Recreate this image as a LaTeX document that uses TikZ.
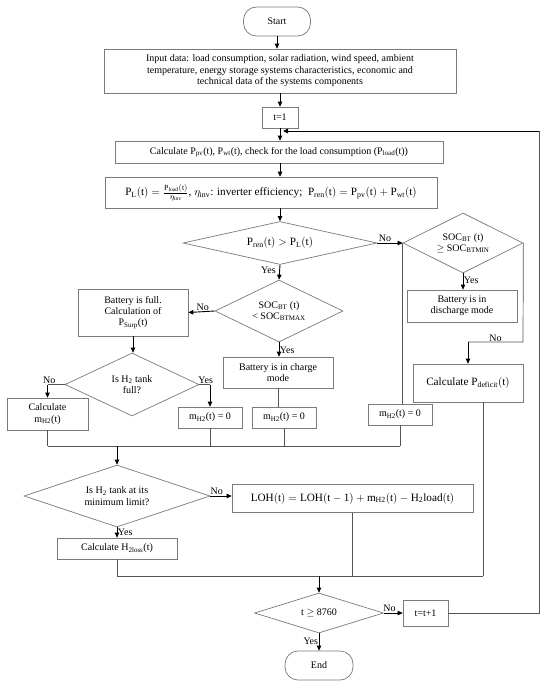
\documentclass[tikz,border=0pt]{standalone}
\usepackage{fontspec}
\setmainfont{Liberation Serif}
\usetikzlibrary{shapes.geometric,arrows.meta,calc}
\definecolor{boxgray}{HTML}{7A7A7A}
\definecolor{linegray}{HTML}{555555}
\newcommand{\fs}{\fontsize{10}{11.4}\selectfont}
\newcommand{\fm}{\fontsize{11.2}{13}\selectfont}
\newcommand{\sub}[1]{\textsubscript{#1}}
\begin{document}
\begin{tikzpicture}[x=1pt,y=-1pt,
  box/.style={draw=boxgray, line width=0.7pt, inner sep=1pt, align=center, font=\fs},
  dia/.style={draw=boxgray, line width=0.7pt, diamond, inner sep=0pt, align=center, font=\fs},
  term/.style={draw=boxgray, line width=0.7pt, rounded corners=13pt, align=center, font=\fs},
  arr/.style={-{Triangle[length=5pt,width=4.5pt]}, line width=0.9pt, black},
  ln/.style={draw=linegray, line width=0.7pt},
  lbl/.style={font=\fs, inner sep=0.5pt}]
\useasboundingbox (0,0) rectangle (550,687);
\fill[white] (0,0) rectangle (550,687);

% nodes
\node[term, minimum width=67pt, minimum height=29pt] (start) at (277,21.5) {Start};
\node[box, minimum width=352pt, minimum height=44pt] (input) at (280,71)
  {Input data: load consumption, solar radiation, wind speed, ambient\\temperature, energy storage systems characteristics, economic and\\technical data of the systems components};
\node[box, minimum width=36pt, minimum height=21pt] (t1) at (280,117.5) {t=1};
\node[box, minimum width=328pt, minimum height=22pt] (calc) at (279,152)
  {Calculate P\sub{pv}(t), P\sub{wt}(t), check for the load consumption (P\sub{load}(t))};
\node[box, minimum width=332pt, minimum height=31pt, font=\fm] (pl) at (271,192.5)
  {$\mathrm{P_L(t)} = \frac{\mathrm{P_{load}(t)}}{\eta_{\mathrm{inv}}}$, $\eta_{\mathrm{inv}}$: inverter efficiency;\ \ $\mathrm{P_{ren}(t) = P_{pv}(t) + P_{wt}(t)}$};
\node[dia, minimum width=194pt, minimum height=43pt, shape aspect=4.5, font=\fm] (pren) at (280,243)
  {$\mathrm{P_{ren}(t) > P_L(t)}$};
\node[dia, minimum width=120pt, minimum height=60pt, shape aspect=2] (socmin) at (463,243)
  {SOC\sub{BT} (t)\\$\geq$ SOC\sub{BTMIN}};
\node[dia, minimum width=128pt, minimum height=62pt, shape aspect=2] (socmax) at (279,311)
  {SOC\sub{BT} (t)\\< SOC\sub{BTMAX}};
\node[box, minimum width=110pt, minimum height=47pt] (batfull) at (133,312.5)
  {Battery is full.\\Calculation of\\P\sub{Surp}(t)};
\node[box, minimum width=110pt, minimum height=31pt] (charge) at (278,372.5)
  {Battery is in charge\\mode};
\node[box, minimum width=110pt, minimum height=32pt] (discharge) at (462,306)
  {Battery is in\\discharge mode};
\node[box, minimum width=110pt, minimum height=38pt, font=\fm] (pdef) at (468,383)
  {Calculate $\mathrm{P_{deficit}(t)}$};
\node[dia, minimum width=134pt, minimum height=63pt, shape aspect=2] (h2full) at (132,384.5)
  {Is H\sub{2} tank\\full?};
\node[box, minimum width=81pt, minimum height=32pt] (calcm) at (47.5,414)
  {Calculate\\m\sub{H2}(t)};
\node[box, minimum width=64pt, minimum height=21pt] (m1) at (210,417.5) {m\sub{H2}(t) = 0};
\node[box, minimum width=64pt, minimum height=21pt] (m2) at (284,417.5) {m\sub{H2}(t) = 0};
\node[box, minimum width=64pt, minimum height=21pt] (m3) at (400,414.5) {m\sub{H2}(t) = 0};
\node[dia, minimum width=186pt, minimum height=62pt, shape aspect=3] (h2min) at (117,496)
  {Is H\sub{2} tank at its\\minimum limit?};
\node[box, minimum width=241pt, minimum height=28pt, font=\fm] (loh) at (352.5,498.5)
  {$\mathrm{LOH(t) = LOH(t-1) + m_{H2}(t) - H_2load(t)}$};
\node[box, minimum width=120pt, minimum height=21pt] (h2loss) at (117,548.5)
  {Calculate H\sub{2loss}(t)};
\node[dia, minimum width=129pt, minimum height=40pt, shape aspect=3.2] (tcheck) at (319,613)
  {t $\geq$ 8760};
\node[box, minimum width=45pt, minimum height=26pt] (tinc) at (425.5,613) {t=t+1};
\node[term, minimum width=68pt, minimum height=29pt] (end) at (319,665.5) {End};

% coordinates
\coordinate (loopR) at (539,131);
\coordinate (loopIn) at (280,131);
\coordinate (socminTurn) at (523,342);
\coordinate (merge1L) at (calcm.south |- 0,446);
\coordinate (merge1R) at (m3.south |- 0,446);
\coordinate (merge1A) at (h2min.north |- 0,446);
\coordinate (pdefOut) at ($(pdef.south)+(15,0)$);
\coordinate (merge2L) at (h2loss.south |- 0,576);
\coordinate (merge2R) at (pdefOut |- 0,576);
\coordinate (merge2A) at (tcheck.north |- 0,576);

% connectors
\draw[arr] (start.south) -- (start.south |- input.north);
\draw[arr] (input.south -| t1.north) -- (t1.north);
\draw[arr] (t1.south) -- (t1.south |- calc.north);
\draw[arr] (calc.south -| t1.south) -- (t1.south |- pl.north);
\draw[arr] (pl.south -| pren.north) -- (pren.north);
\draw[ln] (tinc.east) -- (tinc.east -| loopR) -- (loopR);
\draw[arr] (loopR) -- ($(loopIn)+(3,0)$);

\draw[arr] (pren.east) -- node[lbl, above, pos=0.3] {No} (socmin.west);
\draw[arr] (pren.south) -- node[lbl, left, xshift=-3pt, pos=0.35] {Yes} (socmax.north);
\draw[arr] (socmax.west) -- node[lbl, above, pos=0.45] {No} (batfull.east -| batfull.east);
\draw[arr] (socmax.south) -- node[lbl, right, pos=0.55] {Yes} (socmax.south |- charge.north);
\draw[arr] (socmin.south) -- node[lbl, right, pos=0.4] {Yes} (socmin.south |- discharge.north);
\draw[ln] (socmin.east) -- (socminTurn) -- node[lbl, above, pos=0.5] {No} (socminTurn -| pdef.north);
\draw[arr] ($(socminTurn -| pdef.north)+(0,-0.4)$) -- (pdef.north);
\draw[ln] (socmin.west) -- (socmin.west |- m3.north);

\draw[arr] (batfull.south) -- (batfull.south |- h2full.north);
\draw[ln] (h2full.west) -- node[lbl, above, pos=0.9] {No} (h2full.west -| calcm.north);
\draw[arr] (h2full.west -| calcm.north) -- (calcm.north);
\draw[ln] (h2full.east) -- node[lbl, above, pos=0.6] {Yes} (h2full.east -| m1.north);
\draw[arr] (h2full.east -| m1.north) -- (m1.north);
\draw[ln] (charge.south) -- (charge.south |- m2.north);

\draw[ln] (calcm.south) -- (merge1L);
\draw[ln] (m1.south) -- (m1.south |- merge1L);
\draw[ln] (m2.south) -- (m2.south |- merge1L);
\draw[ln] (m3.south) -- (merge1R);
\draw[ln] (merge1L) -- (merge1R);
\draw[arr] (merge1A) -- (h2min.north);

\draw[arr] (h2min.east) -- node[lbl, above, pos=0.3] {No} (h2min.east -| loh.west);
\draw[arr] (h2min.south) -- node[lbl, right, pos=0.5] {Yes} (h2loss.north);
\draw[ln] (h2loss.south) -- (merge2L);
\draw[ln] (loh.south) -- (loh.south |- merge2L);
\draw[ln] (pdefOut) -- (merge2R);
\draw[ln] (merge2L) -- (merge2R);
\draw[arr] (merge2A) -- (tcheck.north);

\draw[arr] (tcheck.east) -- node[lbl, above, pos=0.3] {No} (tinc.west);
\draw[arr] (tcheck.south) -- node[lbl, left, pos=0.45] {Yes} (end.north);
\end{tikzpicture}
\end{document}
